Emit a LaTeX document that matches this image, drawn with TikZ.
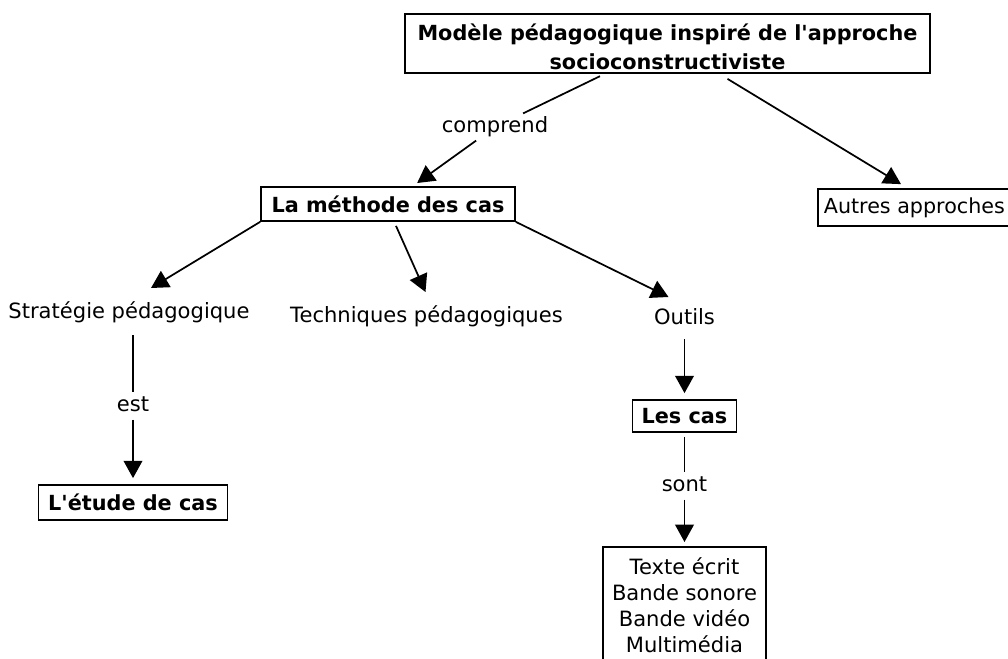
\documentclass[tikz,border=0pt]{standalone}
\usepackage{fontspec}
\setmainfont{DejaVu Sans}
\usetikzlibrary{arrows.meta,calc}
\begin{document}
\begin{tikzpicture}[x=0.75pt,y=-0.75pt,
  base/.style={font=\fontsize{15.8}{19.5}\selectfont},
  bbase/.style={font=\fontsize{15.6}{22}\selectfont\bfseries},
  box/.style={draw, line width=1.3pt, inner sep=2pt},
  lbl/.style={base, text height=11pt, text depth=3pt, inner sep=3pt},
  ln/.style={line width=1.3pt},
  arr/.style={line width=1.3pt, -{Triangle[length=13pt,width=14pt]}}]
\useasboundingbox (0,0) rectangle (1008,658);
\clip (0,0) rectangle (1008,658);
\fill[white] (0,0) rectangle (1008,658);

% nodes
\node[box,bbase,align=center,minimum width=393.75pt,minimum height=44.25pt] (top) at (667.5,43.5)
  {\rule{0pt}{17pt}Modèle pédagogique inspiré de l\textquotesingle approche\\socioconstructiviste};
\node[lbl] (comprend) at (495,127) {comprend};
\node[box,bbase,minimum width=190.5pt,minimum height=25.5pt] (methode) at (388,204) {La méthode des cas};
\node[box,font=\fontsize{15.5}{19.5}\selectfont,anchor=west,minimum height=27.75pt,inner xsep=4.5pt] (autres) at (817,207.5) {Autres approches};
\node[lbl] (strat) at (129,313) {Stratégie pédagogique};
\node[lbl] (tech) at (426.5,317) {Techniques pédagogiques};
\node[lbl] (outils) at (684.5,319) {Outils};
\node[lbl] (est) at (133,406) {est};
\node[box,bbase,minimum width=141.75pt,minimum height=26.25pt] (etude) at (133,502.5) {L\textquotesingle étude de cas};
\node[box,bbase,minimum width=78pt,minimum height=24pt] (lescas) at (684.5,416) {Les cas};
\node[lbl] (sont) at (684.5,486) {sont};
\node[box,base,align=center,anchor=north,minimum width=122.25pt,inner ysep=8pt] (media) at (684.5,546)
  {Texte écrit\\Bande sonore\\Bande vidéo\\Multimédia};

% connectors
\draw[ln, shorten <=4pt] (top) -- (comprend);
\draw[arr, shorten >=4pt] (comprend) -- (methode);
\draw[arr] ($(top.south)+(60,5)$) -- ($(autres.north west)+(84,-4)$);
\draw[arr] (methode.south west) -- ($(strat)+(22,-25)$);
\draw[arr] ($(methode.south)+(8,4)$) -- ($(tech)+(-1,-25)$);
\draw[arr] (methode.south east) -- ($(outils)+(-16,-22)$);
\draw[ln] ($(strat)+(4,22)$) -- (est);
\draw[arr, shorten >=4.5pt] (est) -- (etude);
\draw[arr, shorten <=5pt, shorten >=4.5pt] (outils) -- (lescas);
\draw[ln, shorten <=3pt] (lescas) -- (sont);
\draw[arr, shorten >=3pt] (sont) -- (media);
\end{tikzpicture}
\end{document}
